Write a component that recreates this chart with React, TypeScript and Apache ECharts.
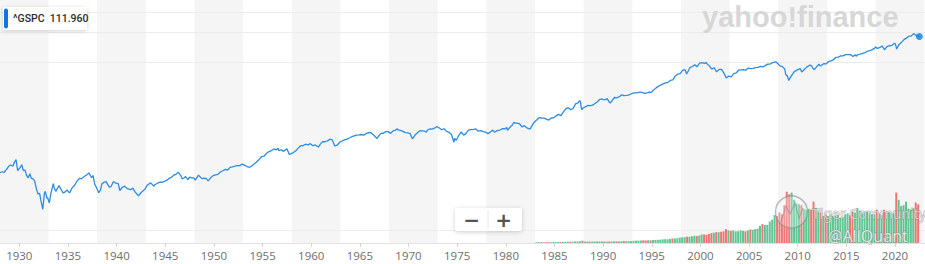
import React, { useEffect, useRef } from "react";
import * as echarts from "echarts";

// ---------- axis range (decimal years) ----------
const X_MIN = 1928.017;
const X_MAX = 2023.08;

// ---------- price line (^GSPC), month + value ----------
const priceDates: string[] = [
  "1928-01","1928-04","1928-06","1928-09","1928-11","1928-12",
  "1929-02","1929-05","1929-07","1929-09","1929-11","1929-12",
  "1930-02","1930-04","1930-06","1930-08","1930-10","1930-12",
  "1931-02","1931-04","1931-06","1931-08","1931-10","1931-12",
  "1932-02","1932-04","1932-06","1932-08","1932-09","1932-11","1932-12",
  "1933-02","1933-04","1933-07","1933-08","1933-10","1933-12",
  "1934-02","1934-05","1934-07","1934-09","1934-12",
  "1935-03","1935-06","1935-09","1935-12",
  "1936-03","1936-06","1936-09","1936-12",
  "1937-03","1937-06","1937-08","1937-10","1937-12",
  "1938-03","1938-05","1938-07","1938-10","1938-12",
  "1939-04","1939-06","1939-09","1939-12",
  "1940-03","1940-05","1940-08","1940-11","1940-12",
  "1941-03","1941-06","1941-09","1941-12",
  "1942-04","1942-07","1942-10","1942-12",
  "1943-03","1943-07","1943-11","1943-12",
  "1944-03","1944-06","1944-09","1944-12",
  "1945-03","1945-06","1945-09","1945-12",
  "1946-02","1946-05","1946-08","1946-10","1946-12",
  "1947-02","1947-05","1947-07","1947-10","1947-12",
  "1948-02","1948-06","1948-09","1948-11","1948-12",
  "1949-03","1949-06","1949-09","1949-12",
  "1950-03","1950-06","1950-09","1950-12",
  "1951-03","1951-06","1951-09","1951-12",
  "1952-03","1952-06","1952-09","1952-12",
  "1953-03","1953-06","1953-09","1953-12",
  "1954-03","1954-06","1954-09","1954-12",
  "1955-03","1955-06","1955-09","1955-12",
  "1956-03","1956-06","1956-08","1956-09","1956-12",
  "1957-03","1957-07","1957-10","1957-12",
  "1958-03","1958-06","1958-09","1958-12",
  "1959-03","1959-06","1959-09","1959-12",
  "1960-03","1960-06","1960-10","1960-12",
  "1961-03","1961-06","1961-09","1961-12",
  "1962-03","1962-06","1962-09","1962-12",
  "1963-03","1963-06","1963-09","1963-12",
  "1964-03","1964-06","1964-09","1964-12",
  "1965-03","1965-06","1965-09","1965-12",
  "1966-02","1966-06","1966-09","1966-10","1966-12",
  "1967-03","1967-06","1967-09","1967-12",
  "1968-03","1968-06","1968-09","1968-11","1968-12",
  "1969-03","1969-06","1969-09","1969-12",
  "1970-03","1970-05","1970-06","1970-09","1970-12",
  "1971-03","1971-06","1971-09","1971-11","1971-12",
  "1972-03","1972-06","1972-09","1972-12",
  "1973-01","1973-03","1973-06","1973-09","1973-12",
  "1974-03","1974-06","1974-09","1974-10","1974-12",
  "1975-03","1975-06","1975-09","1975-12",
  "1976-03","1976-06","1976-09","1976-12",
  "1977-03","1977-06","1977-09","1977-12",
  "1978-03","1978-06","1978-09","1978-11","1978-12",
  "1979-03","1979-06","1979-09","1979-12",
  "1980-02","1980-03","1980-06","1980-09","1980-11","1980-12",
  "1981-03","1981-06","1981-09","1981-12",
  "1982-03","1982-07","1982-09","1982-12",
  "1983-03","1983-06","1983-09","1983-12",
  "1984-03","1984-06","1984-09","1984-12",
  "1985-03","1985-06","1985-09","1985-12",
  "1986-03","1986-06","1986-09","1986-12",
  "1987-03","1987-06","1987-08","1987-09","1987-10","1987-11","1987-12",
  "1988-03","1988-06","1988-09","1988-12",
  "1989-03","1989-06","1989-09","1989-12",
  "1990-03","1990-06","1990-09","1990-10","1990-12",
  "1991-03","1991-06","1991-09","1991-12",
  "1992-03","1992-06","1992-09","1992-12",
  "1993-03","1993-06","1993-09","1993-12",
  "1994-03","1994-06","1994-09","1994-12",
  "1995-03","1995-06","1995-09","1995-12",
  "1996-03","1996-06","1996-09","1996-12",
  "1997-03","1997-06","1997-09","1997-12",
  "1998-03","1998-06","1998-08","1998-09","1998-12",
  "1999-03","1999-06","1999-09","1999-12",
  "2000-03","2000-06","2000-08","2000-09","2000-12",
  "2001-03","2001-06","2001-09","2001-12",
  "2002-03","2002-06","2002-09","2002-12",
  "2003-03","2003-06","2003-09","2003-12",
  "2004-03","2004-06","2004-09","2004-12",
  "2005-03","2005-06","2005-09","2005-12",
  "2006-03","2006-06","2006-09","2006-12",
  "2007-03","2007-06","2007-10","2007-12",
  "2008-03","2008-06","2008-09","2008-10","2008-11","2008-12",
  "2009-02","2009-03","2009-06","2009-09","2009-12",
  "2010-04","2010-06","2010-09","2010-12",
  "2011-04","2011-06","2011-09","2011-12",
  "2012-03","2012-05","2012-09","2012-12",
  "2013-03","2013-06","2013-09","2013-12",
  "2014-03","2014-06","2014-09","2014-12",
  "2015-03","2015-06","2015-08","2015-09","2015-12",
  "2016-01","2016-03","2016-06","2016-09","2016-12",
  "2017-03","2017-06","2017-09","2017-12",
  "2018-01","2018-03","2018-06","2018-09","2018-12",
  "2019-03","2019-06","2019-09","2019-12",
  "2020-01","2020-02","2020-03","2020-06","2020-09","2020-12",
  "2021-03","2021-06","2021-09","2021-12",
  "2022-03","2022-07",
];

const priceValues: number[] = [
  18.9,19.6,19.0,21.3,23.2,24.4,
  25.6,24.5,28.5,31.9,20.4,21.5,
  23.1,25.9,20.5,21.0,17.0,15.3,
  18.2,15.0,14.8,13.5,10.0,8.1,
  8.3,5.9,4.4,8.4,9.0,6.9,6.9,
  5.7,8.3,12.2,10.4,9.0,10.1,
  11.3,9.5,8.4,8.7,9.5,
  8.4,10.3,11.3,13.4,
  15.0,14.9,16.2,17.2,
  18.7,15.6,16.8,12.0,10.6,
  8.5,9.3,12.2,13.0,13.2,
  10.6,10.8,13.2,12.5,
  12.2,9.3,10.5,11.1,10.6,
  9.9,9.6,10.2,8.7,
  7.5,8.5,9.3,9.8,
  11.6,12.6,11.0,11.7,
  12.3,12.9,12.9,13.3,
  14.0,15.1,15.8,17.4,
  17.5,19.3,17.0,14.7,15.3,
  16.2,14.3,15.8,15.3,15.3,
  14.1,17.1,15.4,14.8,15.2,
  15.1,13.6,15.4,16.8,
  17.3,17.7,19.4,20.4,
  21.5,21.0,23.3,23.8,
  24.4,25.0,25.0,26.6,
  25.3,24.1,23.4,24.8,
  26.9,29.2,32.3,36.0,
  36.6,41.0,43.7,45.5,
  48.5,46.9,49.7,45.4,46.7,
  44.1,49.1,39.0,40.0,
  42.1,45.2,50.1,55.2,
  55.4,58.5,56.9,59.9,
  55.3,56.9,52.3,58.1,
  65.1,64.6,66.7,71.6,
  69.6,54.8,56.3,63.1,
  66.6,69.4,71.7,75.0,
  78.9,81.7,84.2,84.8,
  86.2,84.1,89.9,92.4,
  93.8,84.7,76.6,73.2,80.3,
  90.2,90.6,96.7,96.5,
  90.2,99.6,102.7,108.4,103.9,
  101.5,97.7,93.1,92.1,
  89.6,76.6,72.7,84.2,92.2,
  100.3,99.7,98.3,94.0,102.1,
  107.2,107.1,110.6,118.1,
  116.0,111.5,104.3,108.4,97.6,
  94.0,86.0,63.5,73.9,68.6,
  83.4,95.2,83.9,90.2,
  102.8,104.3,105.2,107.5,
  98.4,100.5,96.5,95.1,
  89.2,95.5,102.5,94.7,96.1,
  101.6,102.9,109.3,107.9,
  113.7,102.1,114.2,125.5,140.5,135.8,
  136.0,131.2,116.2,122.6,
  112.0,107.1,120.4,140.6,
  153.0,168.1,166.1,164.9,
  159.2,153.2,166.1,167.2,
  180.7,191.9,182.1,211.3,
  238.9,250.8,231.3,242.2,
  291.7,304.0,329.8,321.8,251.8,230.3,247.1,
  258.9,273.5,271.9,277.7,
  294.9,318.0,349.2,353.4,
  339.9,358.0,306.1,304.0,330.2,
  375.2,371.2,387.9,417.1,
  403.7,408.1,417.8,435.7,
  451.7,450.5,458.9,466.5,
  445.8,444.3,462.7,459.3,
  500.7,544.8,584.4,615.9,
  645.5,670.6,687.3,740.7,
  757.1,885.1,947.3,970.4,
  1101.8,1133.8,957.3,1017.0,1229.2,
  1286.4,1372.7,1282.7,1469.3,
  1498.6,1454.6,1517.7,1436.5,1320.3,
  1160.3,1224.4,1040.9,1148.1,
  1147.4,989.8,815.3,879.8,
  848.2,974.5,996.0,1111.9,
  1126.2,1140.8,1114.6,1211.9,
  1180.6,1191.3,1228.8,1248.3,
  1294.8,1270.2,1335.8,1418.3,
  1420.9,1503.4,1549.4,1468.4,
  1322.7,1280.0,1166.4,968.8,896.2,903.3,
  735.1,797.9,919.3,1057.1,1115.1,
  1186.7,1030.7,1141.2,1257.6,
  1363.6,1320.6,1131.4,1257.6,
  1408.5,1310.3,1440.7,1426.2,
  1569.2,1606.3,1681.6,1848.4,
  1872.3,1960.2,1972.3,2058.9,
  2067.9,2063.1,1972.2,1920.0,2043.9,
  1940.2,2059.7,2098.9,2168.3,2238.8,
  2362.7,2423.4,2519.4,2673.6,
  2823.8,2640.9,2718.4,2914.0,2506.9,
  2834.4,2941.8,2976.7,3230.8,
  3225.5,2954.2,2584.6,3100.3,3363.0,3756.1,
  3972.9,4297.5,4307.5,4766.2,
  4450.0,4250.0,
];

// ---------- volume (quarterly, avg daily, billions) from 1983 Q1 ----------
const volumeStartYear = 1983;
const volumeValues: number[] = [
  0.08,0.09,0.09,0.08, // 1983
  0.09,0.09,0.10,0.10, // 1984
  0.10,0.11,0.11,0.12, // 1985
  0.13,0.14,0.14,0.14, // 1986
  0.18,0.17,0.18,0.25, // 1987
  0.16,0.16,0.15,0.15, // 1988
  0.16,0.17,0.17,0.17, // 1989
  0.16,0.15,0.16,0.16, // 1990
  0.18,0.18,0.17,0.19, // 1991
  0.21,0.19,0.19,0.21, // 1992
  0.25,0.26,0.26,0.28, // 1993
  0.30,0.29,0.30,0.30, // 1994
  0.33,0.34,0.35,0.37, // 1995
  0.41,0.42,0.41,0.44, // 1996
  0.50,0.50,0.53,0.60, // 1997
  0.63,0.65,0.70,0.70, // 1998
  0.75,0.80,0.78,0.82, // 1999
  0.95,0.95,0.90,1.00, // 2000
  1.10,1.15,1.20,1.20, // 2001
  1.25,1.30,1.55,1.40, // 2002
  1.35,1.40,1.30,1.30, // 2003
  1.40,1.35,1.30,1.40, // 2004
  1.50,1.45,1.55,1.60, // 2005
  1.90,2.10,2.00,2.00, // 2006
  2.40,2.60,3.10,3.00, // 2007
  3.40,3.20,4.20,5.70, // 2008
  5.40,5.60,4.80,4.40, // 2009
  4.30,4.20,3.80,3.70, // 2010
  3.80,3.70,4.60,3.90, // 2011
  3.50,3.40,3.00,3.20, // 2012
  3.00,3.20,3.00,3.00, // 2013
  3.10,2.80,2.90,3.20, // 2014
  3.30,3.10,3.50,3.40, // 2015
  3.90,3.60,3.30,3.50, // 2016
  3.50,3.40,3.20,3.20, // 2017
  3.70,3.30,3.10,3.70, // 2018
  3.50,3.40,3.30,3.30, // 2019
  5.60,4.80,4.10,4.20, // 2020
  4.60,3.80,3.70,3.90, // 2021
  4.50,4.30,           // 2022
];
// 1 = quarter closed lower (red), 0 = higher (green)
const volumeDown: number[] = [
  0,0,1,0, 1,1,0,0, 0,0,1,0, 0,0,1,0, 0,0,0,1,
  0,0,1,0, 0,0,0,0, 1,0,1,0, 0,1,0,0, 1,0,0,0,
  0,0,0,0, 1,1,0,1, 0,0,0,0, 0,0,0,0, 1,0,0,0,
  0,0,1,0, 0,0,1,0, 0,1,1,1, 1,0,1,0, 1,1,1,0,
  1,0,0,0, 0,0,1,0, 1,0,0,0, 0,1,0,0, 0,0,0,1,
  1,1,1,1, 1,0,0,0, 0,1,0,0, 0,1,1,0, 0,1,0,1,
  0,0,0,0, 0,0,0,0, 0,1,1,0, 0,0,0,0, 0,0,0,0,
  1,0,0,1, 0,0,0,0, 1,0,0,0, 0,0,0,0, 1,1,
];

const LINE_COLOR = "#2b8ce3";
const GREEN = "rgba(78,192,136,0.9)";
const RED = "rgba(240,104,104,0.9)";

function toYear(d: string): number {
  const [y, m] = d.split("-").map(Number);
  return y + (m - 1) / 12;
}

export default function App() {
  const ref = useRef<HTMLDivElement>(null);

  useEffect(() => {
    document.body.style.margin = "0";
    if (!ref.current) return;
    const chart = echarts.init(ref.current, undefined, { renderer: "svg" });

    const lineData = priceDates.map((d, i) => [toYear(d), priceValues[i]]);
    const last = lineData[lineData.length - 1];
    const volData = volumeValues.map((v, i) => [volumeStartYear + i * 0.25 + 0.125, v]);

    const bands: any[] = [];
    for (let y = 1928; y < X_MAX; y += 10) {
      bands.push([{ xAxis: Math.max(y, X_MIN) }, { xAxis: Math.min(y + 5, X_MAX) }]);
    }

    const gridYs = [12.5, 32.5, 62.5, 230.5];
    const TOP = 20;

    chart.setOption({
      animation: false,
      grid: { left: 0, right: 0, top: 0, bottom: 21, containLabel: false, outerBoundsMode: "none" },
      xAxis: {
        type: "value",
        min: X_MIN,
        max: X_MAX,
        splitNumber: 19,
        minInterval: 5,
        maxInterval: 5,
        axisLine: { show: true, onZero: false, lineStyle: { color: "#e2e2e2", width: 1 } },
        axisTick: { show: true, length: 4, lineStyle: { color: "#d4d4d4" } },
        axisLabel: {
          color: "#6e6e6e",
          fontSize: 11.5,
          fontFamily: "Open Sans, sans-serif",
          margin: 6,
          showMinLabel: false,
          showMaxLabel: false,
          formatter: (v: number) => String(Math.round(v)),
        },
        splitLine: { show: false },
      },
      yAxis: [
        { type: "log", logBase: 10, min: 1.152, max: 18133, show: false },
        { type: "value", min: 0, max: 27, show: false },
      ],
      series: [
        {
          type: "bar",
          yAxisIndex: 1,
          data: volData,
          barWidth: 2,
          z: 2,
          silent: true,
          itemStyle: {
            color: (p: any) => (volumeDown[p.dataIndex] ? RED : GREEN),
          },
        },
        {
          type: "line",
          yAxisIndex: 0,
          data: lineData,
          showSymbol: false,
          z: 3,
          silent: true,
          lineStyle: { color: LINE_COLOR, width: 1.3 },
          markArea: {
            silent: true,
            itemStyle: { color: "#f5f5f5" },
            data: bands,
          },
        },
        {
          type: "scatter",
          yAxisIndex: 0,
          data: [last],
          symbolSize: 7,
          z: 4,
          silent: true,
          itemStyle: { color: "#0f7ee8" },
        },
      ],
      graphic: [
        ...gridYs.map((y) => ({
          type: "line",
          silent: true,
          z: 1.5,
          shape: { x1: 0, y1: y, x2: 925, y2: y },
          style: { stroke: "#ececec", lineWidth: 1 },
        })),
        {
          type: "text",
          x: 702,
          y: 16.5,
          z: 5,
          silent: true,
          style: {
            text: "yahoo!finance",
            fill: "#d7d7d7",
            font: 'bold 29px "Liberation Sans", Arial, sans-serif',
            verticalAlign: "middle",
          },
        },
        // legend chip
        {
          type: "rect",
          z: TOP,
          silent: true,
          shape: { x: 3, y: 7, width: 84, height: 23, r: 2 },
          style: { fill: "#ffffff", shadowBlur: 4, shadowColor: "rgba(0,0,0,0.18)", shadowOffsetY: 1 },
        },
        {
          type: "rect",
          z: TOP + 1,
          silent: true,
          shape: { x: 4, y: 8.5, width: 4, height: 20, r: 2 },
          style: { fill: "#1273e6" },
        },
        {
          type: "text",
          z: TOP + 1,
          silent: true,
          x: 13,
          y: 18.5,
          style: {
            text: "^GSPC  111.960",
            fill: "#2b2b2b",
            font: '500 10.5px Roboto, "Noto Sans", sans-serif',
            verticalAlign: "middle",
          },
        },
        // zoom buttons
        {
          type: "rect",
          z: TOP,
          silent: true,
          shape: { x: 455, y: 208, width: 67, height: 23, r: 2 },
          style: { fill: "#ffffff", shadowBlur: 4, shadowColor: "rgba(0,0,0,0.2)", shadowOffsetY: 1 },
        },
        {
          type: "line",
          z: TOP + 1,
          silent: true,
          shape: { x1: 488, y1: 210, x2: 488, y2: 229 },
          style: { stroke: "#e8e8e8", lineWidth: 1 },
        },
        {
          type: "text",
          z: TOP + 1,
          silent: true,
          x: 471.5,
          y: 219.5,
          style: {
            text: "\u2212",
            fill: "#555555",
            font: 'bold 20px "DejaVu Sans", sans-serif',
            align: "center",
            verticalAlign: "middle",
          },
        },
        {
          type: "text",
          z: TOP + 1,
          silent: true,
          x: 503.5,
          y: 219.5,
          style: {
            text: "+",
            fill: "#555555",
            font: 'bold 20px "DejaVu Sans", sans-serif',
            align: "center",
            verticalAlign: "middle",
          },
        },
        // watermark
        {
          type: "circle",
          z: TOP,
          silent: true,
          shape: { cx: 791.5, cy: 212, r: 16 },
          style: { fill: "rgba(255,255,255,0.25)", stroke: "rgba(140,140,140,0.6)", lineWidth: 1.5 },
        },
        {
          type: "polyline",
          z: TOP,
          silent: true,
          shape: { points: [[781, 222], [786, 206], [790, 214], [795, 203], [799, 218], [803, 208]] },
          style: { fill: "none", stroke: "rgba(140,140,140,0.55)", lineWidth: 1.2 },
        },
        {
          type: "text",
          z: TOP,
          silent: true,
          x: 812,
          y: 213,
          style: {
            text: "Tiger Community",
            fill: "rgba(255,255,255,0.6)",
            stroke: "rgba(120,120,120,0.55)",
            lineWidth: 1,
            font: '14px "Noto Sans", sans-serif',
            verticalAlign: "middle",
          },
        },
        {
          type: "text",
          z: TOP,
          silent: true,
          x: 828,
          y: 235.5,
          style: {
            text: "@AllQuant",
            fill: "rgba(255,255,255,0.75)",
            stroke: "rgba(120,120,120,0.6)",
            lineWidth: 1,
            font: '16px "Noto Sans", sans-serif',
            verticalAlign: "middle",
          },
        },
      ],
    });

    return () => chart.dispose();
  }, []);

  return <div ref={ref} style={{ width: 925, height: 264 }} />;
}
